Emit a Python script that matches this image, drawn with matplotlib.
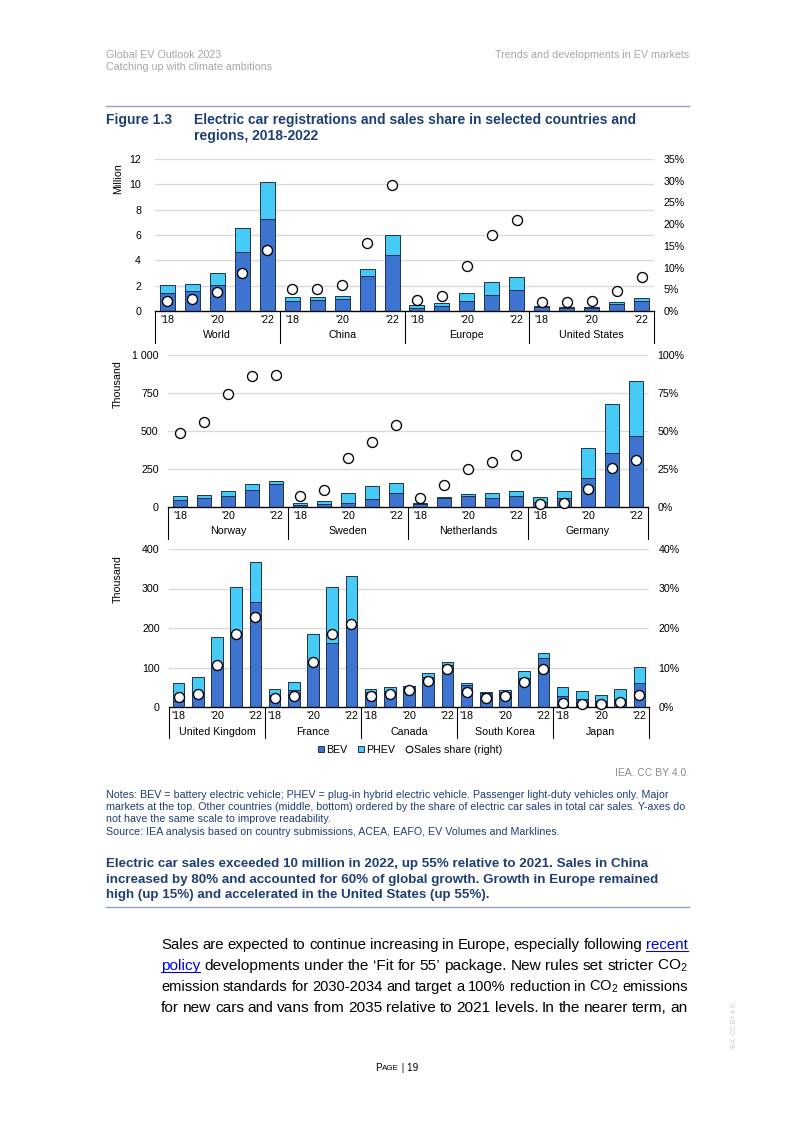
import matplotlib
matplotlib.use('Agg')
import matplotlib.pyplot as plt
import matplotlib.transforms as mtransforms
from matplotlib.lines import Line2D
import numpy as np

plt.rcParams['font.family'] = ['Liberation Sans', 'DejaVu Sans']
plt.rcParams['mathtext.fontset'] = 'custom'
plt.rcParams['mathtext.rm'] = 'Liberation Sans'
plt.rcParams['mathtext.it'] = 'Liberation Sans:italic'

W, H, DPI = 793, 1122, 96

# ---- data -------------------------------------------------------------
year_labels = ["'18", "", "'20", "", "'22"]

top_regions = ['World', 'China', 'Europe', 'United States']
top_bev = [1.39, 1.60, 2.05, 4.66, 7.29,
           0.82, 0.89, 0.97, 2.79, 4.45,
           0.21, 0.39, 0.76, 1.26, 1.66,
           0.29, 0.26, 0.24, 0.53, 0.79]
top_phev = [0.66, 0.56, 0.95, 1.89, 2.89,
            0.31, 0.23, 0.24, 0.55, 1.52,
            0.24, 0.24, 0.66, 1.06, 1.05,
            0.10, 0.08, 0.08, 0.15, 0.24]
top_share = [2.4, 2.7, 4.3, 8.8, 14.0,
             5.1, 5.1, 5.9, 15.6, 29.1,
             2.5, 3.5, 10.3, 17.6, 21.0,
             2.0, 2.1, 2.4, 4.6, 7.8]

mid_regions = ['Norway', 'Sweden', 'Netherlands', 'Germany']
mid_bev = [44, 57, 72, 112, 149,
           15, 17, 26, 55, 90,
           20, 59, 70, 59, 70,
           33, 57, 193, 354, 466]
mid_phev = [28, 22, 33, 37, 20,
            14, 20, 64, 81, 70,
            4, 7, 16, 33, 35,
            33, 48, 198, 325, 365]
mid_share = [49, 56, 74.5, 86, 87,
             7.3, 11.2, 32, 43, 54,
             6.2, 14.7, 24.8, 29.5, 34.3,
             1.8, 2.6, 12.1, 25.7, 31.2]

bot_regions = ['United Kingdom', 'France', 'Canada', 'South Korea', 'Japan']
bot_bev = [16, 37, 108, 190, 267,
           30, 44, 111, 162, 210,
           37, 41, 52, 75, 106,
           56, 35.5, 37, 74, 123,
           28, 19.5, 14.4, 19.5, 60]
bot_phev = [46, 38, 69, 115, 101,
            16, 19, 74, 141, 122,
            8, 10.5, 1, 12, 8,
            4, 1.5, 5, 17, 13,
            23, 20.5, 16, 25, 42]
bot_share = [2.6, 3.2, 10.7, 18.5, 22.9,
             2.2, 2.9, 11.3, 18.5, 21.1,
             2.9, 3.4, 4.2, 6.6, 9.5,
             3.7, 2.2, 2.7, 6.4, 9.5,
             1.1, 0.85, 0.7, 1.2, 3.0]

BEV_C = '#3d74d2'
PHEV_C = '#45cbf5'
EDGE = '#1c2a44'
GRID = '#d9d9d9'
NAVY = '#1f3f73'
GREY = '#a6a6a6'

fig = plt.figure(figsize=(W / DPI, H / DPI), dpi=DPI)


def fx(px):
    return px / W


def fy(py):
    return 1 - py / H


def panel(x0, x1, y0, y1, groups, bev, phev, share, lticks, llabels,
          rticks, lpad, ylabel, label_y, year_y, name_y, sep_y):
    ax = fig.add_axes([fx(x0), fy(y1), (x1 - x0) / W, (y1 - y0) / H])
    x = np.arange(len(bev))
    ax.bar(x, bev, width=0.6, color=BEV_C, edgecolor=EDGE, linewidth=0.7, zorder=2)
    ax.bar(x, phev, bottom=bev, width=0.6, color=PHEV_C, edgecolor=EDGE,
           linewidth=0.7, zorder=2)
    ax.set_xlim(-0.5, len(bev) - 0.5)
    ax.set_ylim(0, lticks[-1])
    ax.set_yticks(lticks)
    ax.set_yticklabels(llabels)
    ax.yaxis.grid(True, color=GRID, lw=1)
    ax.set_axisbelow(True)
    ax.set_xticks([])
    ax.tick_params(axis='y', length=0, labelsize=8, pad=lpad)
    for s in ['left', 'right', 'top']:
        ax.spines[s].set_visible(False)
    ax.spines['bottom'].set_linewidth(1)

    ax2 = ax.twinx()
    ax2.set_ylim(0, rticks[-1])
    ax2.set_yticks(rticks)
    ax2.set_yticklabels([f'{t}%' for t in rticks])
    ax2.tick_params(axis='y', length=0, labelsize=8, pad=7)
    for s in ax2.spines.values():
        s.set_visible(False)
    ax2.plot(x, share, 'o', ms=7.5, mfc='white', mec='black', mew=1,
             ls='none', clip_on=False, zorder=5)

    tr = mtransforms.blended_transform_factory(ax.transData, fig.transFigure)
    for g, name in enumerate(groups):
        for k, lab in enumerate(year_labels):
            if lab:
                ax.text(g * 5 + k, fy(year_y), lab, transform=tr, ha='center',
                        va='center', fontsize=8)
        ax.text(g * 5 + 2, fy(name_y), name, transform=tr, ha='center',
                va='center', fontsize=8)
    for b in range(len(groups) + 1):
        ax.plot([b * 5 - 0.5] * 2, [fy(y1), fy(sep_y)], transform=tr,
                color='black', lw=0.8, clip_on=False)
    fig.text(fx(118), fy(label_y), ylabel, rotation=90, ha='center',
             va='top', fontsize=8)
    return ax


panel(155, 654, 159, 311, top_regions, top_bev, top_phev, top_share,
      [0, 2, 4, 6, 8, 10, 12], ['0', '2', '4', '6', '8', '10', '12'],
      [0, 5, 10, 15, 20, 25, 30, 35], 10.5, 'Million', 163, 320, 335, 343)
panel(168, 648, 355, 507, mid_regions, mid_bev, mid_phev, mid_share,
      [0, 250, 500, 750, 1000], ['0', '250', '500', '750', '1 000'],
      [0, 25, 50, 75, 100], 7, 'Thousand', 360, 516, 531, 539)
panel(169, 649, 549, 707, bot_regions, bot_bev, bot_phev, bot_share,
      [0, 100, 200, 300, 400], ['0', '100', '200', '300', '400'],
      [0, 10, 20, 30, 40], 7, 'Thousand', 555, 716, 732, 738)

handles = [Line2D([], [], marker='s', ls='none', ms=5, mfc=BEV_C, mec=EDGE, mew=0.7),
           Line2D([], [], marker='s', ls='none', ms=5, mfc=PHEV_C, mec=EDGE, mew=0.7),
           Line2D([], [], marker='o', ls='none', ms=5, mfc='white', mec='black', mew=0.8)]
fig.legend(handles, ['BEV', 'PHEV', 'Sales share (right)'], loc='center',
           bbox_to_anchor=(fx(410), fy(750)), ncol=3, frameon=False, fontsize=8,
           handlelength=0.6, handletextpad=0.15, columnspacing=1.0)

# ---- page text --------------------------------------------------------
fig.text(fx(106), fy(55), 'Global EV Outlook 2023', fontsize=8, color=GREY, va='center')
fig.text(fx(106), fy(67), 'Catching up with climate ambitions', fontsize=8,
         color=GREY, va='center')
fig.text(fx(689), fy(55), 'Trends and developments in EV markets', fontsize=8,
         color=GREY, va='center', ha='right')
fig.add_artist(Line2D([fx(106), fx(689)], [fy(106)] * 2, color='#8ea0bd', lw=1))

fig.text(fx(106), fy(120), 'Figure 1.3', fontsize=10.4, fontweight='bold',
         color=NAVY, va='center')
fig.text(fx(194), fy(120), 'Electric car registrations and sales share in selected countries and',
         fontsize=10.4, fontweight='bold', color=NAVY, va='center')
fig.text(fx(194), fy(136), 'regions, 2018-2022', fontsize=10.4, fontweight='bold',
         color=NAVY, va='center')

fig.text(fx(689), fy(773), 'IEA. CC BY 4.0.', fontsize=7.8, color='#8c8c8c',
         ha='right', va='center')

notes = ['Notes: BEV = battery electric vehicle; PHEV = plug-in hybrid electric vehicle. '
         'Passenger light-duty vehicles only. Major',
         'markets at the top. Other countries (middle, bottom) ordered by the share of '
         'electric car sales in total car sales. Y-axes do',
         'not have the same scale to improve readability.']
for i, line in enumerate(notes):
    fig.text(fx(106), fy(795 + 12 * i), line, fontsize=8, color=NAVY, va='center')
fig.text(fx(106), fy(832), 'Source: IEA analysis based on country submissions, ACEA, '
         'EAFO, EV Volumes and Marklines.', fontsize=8, color=NAVY, va='center')

summary = ['Electric car sales exceeded 10 million in 2022, up 55% relative to 2021. '
           'Sales in China',
           'increased by 80% and accounted for 60% of global growth. Growth in Europe remained',
           'high (up 15%) and accelerated in the United States (up 55%).']
for i, line in enumerate(summary):
    fig.text(fx(106), fy(864 + 15.5 * i), line, fontsize=10, fontweight='bold',
             color=NAVY, va='center')
fig.add_artist(Line2D([fx(106), fx(689)], [fy(907)] * 2, color='#8ea0bd', lw=1))

# justified body text
body = ["Sales are expected to continue increasing in Europe, especially following recent",
        "policy developments under the \u2018Fit for 55\u2019 package. New rules set stricter CO$_2$",
        "emission standards for 2030-2034 and target a 100% reduction in CO$_2$ emissions",
        "for new cars and vans from 2035 relative to 2021 levels. In the nearer term, an"]
link_words = {(0, 'recent'), (1, 'policy')}
renderer = fig.canvas.get_renderer()
body_size = 11.5
for i, line in enumerate(body):
    yb = 949 + 21 * i
    words = line.split(' ')
    size = body_size
    while True:
        txts = []
        for w in words:
            c = '#0000ee' if (i, w) in link_words else 'black'
            txts.append(fig.text(0, fy(yb), w, fontsize=size, color=c, va='baseline'))
        widths = [t.get_window_extent(renderer).width for t in txts]
        gap = (688 - 161 - sum(widths)) / (len(txts) - 1)
        if gap >= 3 or size < 9:
            break
        for t in txts:
            t.remove()
        size -= 0.25
    xpos = 161
    for t, w, wd in zip(txts, words, widths):
        t.set_x(fx(xpos))
        if (i, w) in link_words:
            fig.add_artist(Line2D([fx(xpos), fx(xpos + wd)], [fy(yb + 2)] * 2,
                                  color='#0000ee', lw=0.8))
        xpos += wd + gap

# page number in small caps
p1 = fig.text(fx(375), fy(1068), 'P', fontsize=7.5, va='center')
w1 = p1.get_window_extent(renderer).width
p2 = fig.text(fx(375 + w1), fy(1068.5), 'AGE', fontsize=6, va='center')
w2 = p2.get_window_extent(renderer).width
fig.text(fx(375 + w1 + w2), fy(1068), ' | 19', fontsize=7.5, va='center')

fig.text(fx(735), fy(1025), 'IEA. CC BY 4.0.', fontsize=5, color='#c8c8c8',
         rotation=90, ha='center', va='center')

fig.savefig('out.png', dpi=DPI)
